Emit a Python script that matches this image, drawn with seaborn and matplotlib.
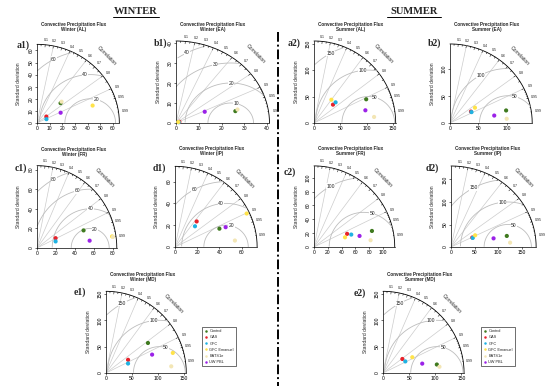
import numpy as np
import matplotlib
matplotlib.use('Agg')
import matplotlib.pyplot as plt
from matplotlib.lines import Line2D
import seaborn as sns

sns.set_style('white')
plt.rcParams['font.family'] = ['Liberation Sans', 'DejaVu Sans']

models = ["Control", "GAS", "GFC", "GFC Emanuel", "BATS1e", "UW PBL"]
colors = ["#3f7a1f", "#e8222b", "#1fb2e2", "#ffe34a", "#f3e6b5", "#9b22e8"]

# standard deviation / correlation of each run (order = models)
sd_a1 = [24.8, 9.1, 8.1, 46.2, 26.2, 20.5]
cor_a1 = [0.75, 0.81, 0.92, 0.95, 0.74, 0.91]
sd_b1 = [26.7, 1.6, 1.3, 1.1, 27.8, 13.8]
cor_b1 = [0.975, 0.93, 0.95, 0.90, 0.97, 0.913]
sd_a2 = [108.7, 50.0, 56.6, 55.0, 114.6, 100.4]
cor_a2 = [0.911, 0.72, 0.724, 0.60, 0.995, 0.971]
sd_b2 = [101.6, 42.5, 42.9, 52.2, 100.3, 79.2]
cor_b2 = [0.974, 0.87, 0.885, 0.843, 0.997, 0.985]
sd_c1 = [52.2, 22.0, 20.7, 79.9, 80.8, 55.9]
cor_c1 = [0.939, 0.89, 0.946, 0.989, 0.99, 0.991]
sd_d1 = [43.4, 30.5, 26.2, 71.5, 54.3, 49.1]
cor_d1 = [0.922, 0.64, 0.687, 0.903, 0.994, 0.929]
sd_c2 = [87.1, 51.6, 56.9, 47.1, 82.6, 67.9]
cor_c2 = [0.964, 0.93, 0.949, 0.955, 0.993, 0.972]
sd_d2 = [120.5, 49.7, 50.2, 57.2, 125.3, 92.0]
cor_d2 = [0.979, 0.906, 0.916, 0.891, 0.997, 0.978]
sd_e1 = [99.0, 49.4, 46.2, 134.5, 126.6, 95.6]
cor_e1 = [0.818, 0.862, 0.921, 0.959, 0.995, 0.931]
sd_e2 = [104.2, 45.6, 48.0, 63.5, 108.6, 77.1]
cor_e2 = [0.988, 0.812, 0.889, 0.882, 0.994, 0.973]

# reference (observed) std. dev. and centred RMS circles per region
ref_sd = {"a1": 42, "b1": 24, "a2": 103, "b2": 102, "c1": 56,
          "d1": 46, "c2": 72, "d2": 120, "e1": 103, "e2": 103}
gammas = {"a1": [20, 40, 60], "b1": [10, 20, 30, 40], "a2": [50, 100, 150],
          "b2": [50, 100], "c1": [20, 40, 60, 80], "d1": [20, 40, 60],
          "c2": [50, 100], "d2": [50, 100, 150], "e1": [50, 100, 150],
          "e2": [50, 100, 150]}
corr_labels = [0.1, 0.2, 0.3, 0.4, 0.5, 0.6, 0.7, 0.8, 0.9, 0.95, 0.99]

# panel: label, subtitle, data, max sd, tick step, origin px, px/unit x, px/unit y, label pos
panels = [
    ("a1", "Winter (AL)", sd_a1, cor_a1, 65, 10, (37, 123), 1.267, 1.21, (17, 45)),
    ("b1", "Winter (EA)", sd_b1, cor_b1, 41, 10, (176, 123), 2.28, 2.0, (154, 43)),
    ("a2", "Summer (AL)", sd_a2, cor_a2, 155, 50, (314, 123), 0.527, 0.529, (288, 43)),
    ("b2", "Summer (EA)", sd_b2, cor_b2, 145, 50, (450, 123), 0.567, 0.545, (428, 43)),
    ("c1", "Winter (FR)", sd_c1, cor_c1, 84, 20, (37, 248), 0.95, 0.98, (15, 168)),
    ("d1", "Winter (IP)", sd_d1, cor_d1, 74, 20, (175, 247), 1.11, 1.09, (153, 168)),
    ("c2", "Summer (FR)", sd_c2, cor_c2, 117, 20, (314, 247), 0.69, 0.693, (284, 172)),
    ("d2", "Summer (IP)", sd_d2, cor_d2, 180, 50, (451, 247), 0.473, 0.45, (426, 168)),
    ("e1", "Winter (MD)", sd_e1, cor_e1, 155, 50, (106, 373), 0.518, 0.527, (74, 292)),
    ("e2", "Summer (MD)", sd_e2, cor_e2, 155, 50, (383, 373), 0.523, 0.527, (354, 293)),
]

W, H = 550, 390
fig = plt.figure(figsize=(5.5, 3.9), dpi=100)


def fx(px):
    return px / W


def fy(py):
    return 1 - py / H


def taylor(ax, key, sd, cor, maxsd, step):
    ax.set_xlim(0, maxsd)
    ax.set_ylim(0, maxsd)
    t = np.linspace(0, np.pi / 2, 200)
    ax.plot(maxsd * np.cos(t), maxsd * np.sin(t), color='black', lw=0.6, clip_on=False)
    for c in [0.2, 0.4, 0.6, 0.8, 0.9]:
        ax.plot([0, maxsd * c], [0, maxsd * np.sqrt(1 - c * c)], color='#cccccc', lw=0.5)
    # centred RMS circles
    ref = ref_sd[key]
    gs = gammas[key]
    th = np.arange(0, np.pi, 0.03)
    idx = np.floor(np.linspace(45, 70, len(gs))).astype(int) - 1
    for g, i in zip(gs, idx):
        xc = ref + g * np.cos(th)
        yc = g * np.sin(th)
        ok = (xc >= 0) & (xc ** 2 + yc ** 2 <= maxsd ** 2)
        ax.plot(xc[ok], yc[ok], color='#bdbdbd', lw=0.6)
        if xc[i] > 0:
            ax.text(xc[i], yc[i], str(g), fontsize=3.6, ha='center', va='center',
                    bbox=dict(fc='white', ec='none', pad=0.2), zorder=3)
    # correlation ticks on the outer arc
    for vals, f in [(np.arange(0.1, 0.95, 0.1), 0.97), (np.arange(0.05, 1.0, 0.1), 0.98),
                    (np.arange(0.91, 0.995, 0.01), 0.99)]:
        a = np.arccos(vals)
        for aa in a:
            ax.plot([np.cos(aa) * maxsd, np.cos(aa) * f * maxsd],
                    [np.sin(aa) * maxsd, np.sin(aa) * f * maxsd], color='black', lw=0.35, clip_on=False)
    for c in corr_labels:
        a = np.arccos(c)
        ax.text(1.08 * maxsd * np.cos(a), 1.06 * maxsd * np.sin(a), f'{c:g}', fontsize=2.6,
                ha='center', va='center', clip_on=False)
    ax.text(1.2 * maxsd * np.cos(np.pi / 4), 1.2 * maxsd * np.sin(np.pi / 4), 'Correlation',
            rotation=-45, fontsize=3.6, ha='center', va='center', clip_on=False)

    sd = np.array(sd)
    cor = np.array(cor)
    sns.scatterplot(x=sd * cor, y=sd * np.sqrt(1 - cor ** 2), hue=models, hue_order=models,
                    palette=colors, s=9, linewidth=0, legend=False, ax=ax, zorder=5, clip_on=False)

    ticks = np.arange(0, maxsd + 1e-9, step)
    ax.set_xticks(ticks)
    ax.set_yticks(ticks)
    ax.set_xticklabels([f'{v:g}' for v in ticks])
    ax.set_yticklabels([f'{v:g}' for v in ticks], rotation=90, va='center')
    ax.tick_params(labelsize=3.6, length=1.5, width=0.4, pad=1, colors='black',
                   bottom=True, left=True)
    for s in ['top', 'right']:
        ax.spines[s].set_visible(False)
    for s in ['left', 'bottom']:
        ax.spines[s].set_color('black')
        ax.spines[s].set_linewidth(0.5)
    ax.set_xlabel('')
    ax.set_ylabel('')
    ax.patch.set_alpha(0)


for key, sub, sd, cor, maxsd, step, (ox, oy), sx, sy, (lx, ly) in panels:
    ax = fig.add_axes([fx(ox), fy(oy), maxsd * sx / W, maxsd * sy / H])
    taylor(ax, key, sd, cor, maxsd, step)
    fig.text(fx(ox + 37), fy(oy - 96), 'Convective Precipitation Flux\n' + sub, fontsize=3.3,
             fontweight='bold', ha='center', va='center', linespacing=1.15)
    fig.text(fx(ox - 18), fy(oy - 0.5 * maxsd * sy), 'Standard deviation', rotation=90,
             fontsize=3.6, ha='center', va='center')
    fig.text(fx(lx), fy(ly), key + ')', fontsize=7, fontweight='bold',
             family='Liberation Serif', ha='left', va='center')

# legends of the bottom panels
handles = [Line2D([], [], marker='o', ls='', color=c, markersize=1.8, markeredgewidth=0)
           for c in colors]
for lx in [202, 481]:
    leg = fig.legend(handles, models, loc='upper left', bbox_to_anchor=(fx(lx), fy(327)),
                     fontsize=2.8, frameon=True, fancybox=False, edgecolor='black',
                     borderpad=0.6, handletextpad=0.3, labelspacing=0.55, handlelength=1.0,
                     borderaxespad=0)
    leg.get_frame().set_linewidth(0.5)

# season headers
for txt, cx, x0, x1 in [("WINTER", 136, 113, 159), ("SUMMER", 414, 387, 441)]:
    fig.text(fx(cx), fy(11.5), txt, fontsize=7.6, fontweight='bold', family='Liberation Serif',
             ha='center', va='center')
    fig.add_artist(Line2D([fx(x0), fx(x1)], [fy(16.5), fy(16.5)], color='black', lw=0.7))

fig.add_artist(Line2D([fx(278), fx(278)], [fy(32), fy(386)], color='black', lw=1.4,
                      linestyle=(0, (5, 1.5, 1, 1.5))))

fig.savefig('out.png', dpi=100)
